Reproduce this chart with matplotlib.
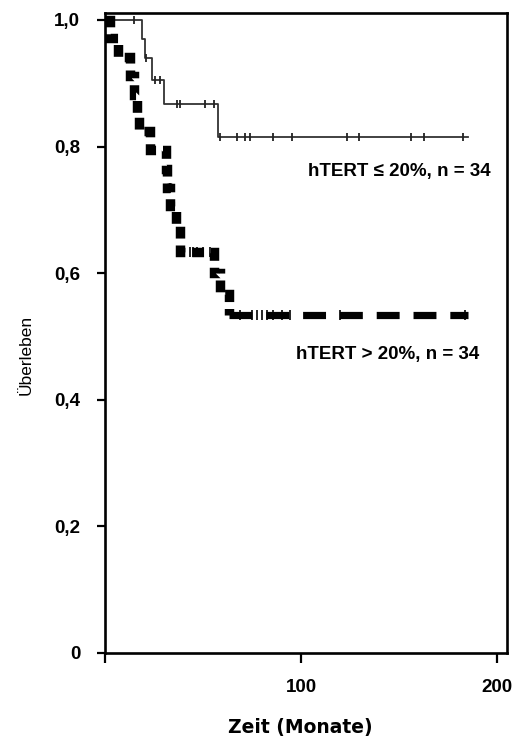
import matplotlib
matplotlib.use("Agg")
import matplotlib.pyplot as plt
import numpy as np

plt.rcParams['font.family'] = ['Liberation Sans', 'DejaVu Sans']
plt.rcParams['lines.scale_dashes'] = False

# hTERT <= 20% (thin line): step times (months) and survival after each step
low_t = [0, 18.7, 20.4, 23.8, 30.1, 57.5, 185]
low_s = [1.0, 0.970, 0.940, 0.905, 0.868, 0.815, 0.815]
low_cens = [14.8, 21.0, 25.5, 28.0, 36.6, 38.3, 51.0, 55.6, 58.7, 67.2, 71.4,
            74.0, 85.5, 95.3, 123.3, 129.6, 156.1, 162.8, 182.5]

# hTERT > 20% (thick dashed line)
high_t = [0, 2.5, 6.6, 12.8, 14.8, 16.3, 17.3, 23.0, 31.0, 31.6, 33.2, 36.2,
          38.3, 55.6, 58.5, 63.3, 185]
high_s = [1.0, 0.971, 0.941, 0.912, 0.882, 0.853, 0.824, 0.794, 0.765, 0.735,
          0.706, 0.676, 0.634, 0.601, 0.567, 0.534, 0.534]
high_cens = [33.0, 34.0, 43.4, 44.9, 46.9, 50.0, 53.6, 68.9, 75.0, 77.6, 80.1,
             82.7, 85.7, 90.3, 94.4, 119.9, 183.7]

x_ticks = [0, 100, 200]
x_labels = ['', '100', '200']
y_ticks = [0, 0.2, 0.4, 0.6, 0.8, 1.0]
y_labels = ['0', '0,2', '0,4', '0,6', '0,8', '1,0']


def surv_at(ts, ss, t):
    i = np.searchsorted(ts, t, side='right') - 1
    return np.asarray(ss)[i]


fig = plt.figure(figsize=(5.15, 7.4), dpi=100)
ax = fig.add_axes([0.2039, 0.1176, 0.7806, 0.8648])

# thin curve
ax.step(low_t, low_s, where='post', color='#333333', lw=1.3)
ax.plot(low_cens, surv_at(low_t, low_s, low_cens), ls='none', marker='|',
        ms=6, mew=1.3, color='#222222')

# thick curve: steep part with square-ish dashes, tail with longer dashes
ax.step(high_t[:-1], high_s[:-1], where='post', color='black', lw=6.8,
        ls=(0, (8.5, 5)), dash_capstyle='butt', dash_joinstyle='miter')
ax.plot(high_t[-2:], high_s[-2:], color='black', lw=5.2,
        ls=(0, (16.5, 10)), dash_capstyle='butt')
ax.plot(high_cens, surv_at(high_t, high_s, high_cens), ls='none', marker='|',
        ms=7.5, mew=1.2, color='black')

ax.text(103.5, 0.760, 'hTERT \u2264 20%, n = 34', fontsize=13.5,
        fontweight='bold', va='center', ha='left')
ax.text(97.5, 0.471, 'hTERT > 20%, n = 34', fontsize=13.5,
        fontweight='bold', va='center', ha='left')

ax.set_xlim(0, 205)
ax.set_ylim(0, 1.011)
ax.set_xticks(x_ticks)
ax.set_xticklabels(x_labels)
ax.set_yticks(y_ticks)
ax.set_yticklabels(y_labels)
for lab in ax.get_xticklabels() + ax.get_yticklabels():
    lab.set_fontweight('bold')
    lab.set_fontsize(13.5)

ax.tick_params(axis='y', direction='out', length=5.8, width=1.6, pad=12)
ax.tick_params(axis='x', direction='out', length=7, width=1.6, pad=12)
for sp in ax.spines.values():
    sp.set_linewidth(1.9)

ax.set_xlabel('Zeit (Monate)', family='DejaVu Sans', fontweight='bold',
              fontsize=13.5)
ax.xaxis.set_label_coords(0.485, -0.102)
ax.set_ylabel('\u00dcberleben', fontsize=12.5)
ax.yaxis.set_label_coords(-0.178, 0.466)

fig.savefig('out.png', dpi=100)
